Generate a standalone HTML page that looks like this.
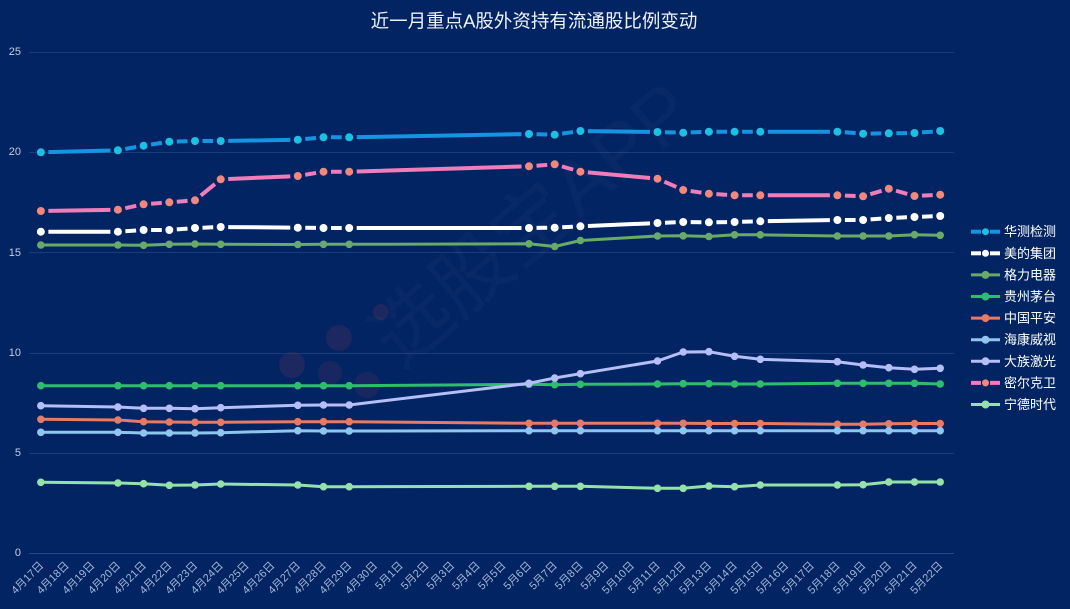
<!DOCTYPE html>
<html>
<head>
<meta charset="utf-8">
<style>
  html,body{margin:0;padding:0;background:#032462;}
  body{width:1070px;height:609px;overflow:hidden;}
  svg{display:block;}
  text{font-family:"Liberation Sans","Noto Sans CJK SC",sans-serif;}
</style>
</head>
<body>
<svg width="1070" height="609" viewBox="0 0 1070 609" xmlns="http://www.w3.org/2000/svg">
  <defs>
    <marker id="mHC" viewBox="-6 -6 12 12" refX="0" refY="0" markerWidth="12" markerHeight="12" markerUnits="userSpaceOnUse"><circle r="4" fill="#1cc0e2"/></marker>
    <marker id="mMD" viewBox="-6 -6 12 12" refX="0" refY="0" markerWidth="12" markerHeight="12" markerUnits="userSpaceOnUse"><circle r="4" fill="#ffffff"/></marker>
    <marker id="mML" viewBox="-6 -6 12 12" refX="0" refY="0" markerWidth="12" markerHeight="12" markerUnits="userSpaceOnUse"><circle r="4" fill="#f2877e"/></marker>
    <marker id="mGL" viewBox="-6 -6 12 12" refX="0" refY="0" markerWidth="12" markerHeight="12" markerUnits="userSpaceOnUse"><circle r="3.8" fill="#6aaa68"/></marker>
    <marker id="mMT" viewBox="-6 -6 12 12" refX="0" refY="0" markerWidth="12" markerHeight="12" markerUnits="userSpaceOnUse"><circle r="3.8" fill="#2dbe6c"/></marker>
    <marker id="mPA" viewBox="-6 -6 12 12" refX="0" refY="0" markerWidth="12" markerHeight="12" markerUnits="userSpaceOnUse"><circle r="3.8" fill="#e57a66"/></marker>
    <marker id="mHK" viewBox="-6 -6 12 12" refX="0" refY="0" markerWidth="12" markerHeight="12" markerUnits="userSpaceOnUse"><circle r="3.8" fill="#8ec6f0"/></marker>
    <marker id="mDZ" viewBox="-6 -6 12 12" refX="0" refY="0" markerWidth="12" markerHeight="12" markerUnits="userSpaceOnUse"><circle r="3.8" fill="#b6bef8"/></marker>
    <marker id="mND" viewBox="-6 -6 12 12" refX="0" refY="0" markerWidth="12" markerHeight="12" markerUnits="userSpaceOnUse"><circle r="3.8" fill="#92e2aa"/></marker>
  </defs>

  <rect x="0" y="0" width="1070" height="609" fill="#032462"/>

  <!-- title -->
  <text x="534" y="21" text-anchor="middle" dominant-baseline="central" font-size="18.5" fill="#eef2fa">近一月重点A股外资持有流通股比例变动</text>

  <!-- grid -->
  <g stroke="#1c3b79" stroke-width="1">
    <line x1="29" y1="52.5" x2="954" y2="52.5"/>
    <line x1="29" y1="152.5" x2="954" y2="152.5"/>
    <line x1="29" y1="252.5" x2="954" y2="252.5"/>
    <line x1="29" y1="353.5" x2="954" y2="353.5"/>
    <line x1="29" y1="453.5" x2="954" y2="453.5"/>
  </g>
  <line x1="29" y1="553.5" x2="954" y2="553.5" stroke="#27468a" stroke-width="1"/>

  <!-- y labels -->
  <g font-size="11" fill="#c3cde0" text-anchor="end" dominant-baseline="central">
    <text x="21" y="52">25</text>
    <text x="21" y="152">20</text>
    <text x="21" y="253">15</text>
    <text x="21" y="353">10</text>
    <text x="21" y="453">5</text>
    <text x="21" y="553">0</text>
  </g>

  <!-- watermark -->
  <g opacity="0.5">
    <circle cx="292" cy="365" r="13" fill="#5a2f5e" opacity="0.6"/>
    <circle cx="339" cy="338" r="13" fill="#5a2f5e" opacity="0.6"/>
    <circle cx="381" cy="312" r="8" fill="#5a2f5e" opacity="0.6"/>
    <circle cx="330" cy="373" r="12" fill="#5a2f5e" opacity="0.5"/>
    <circle cx="367" cy="385" r="13" fill="#5a2f5e" opacity="0.5"/>
  </g>
  <text x="0" y="0" transform="translate(400,370) rotate(-40)" font-size="78" fill="#ffffff" fill-opacity="0.025">选股宝APP</text>

  <!-- x labels -->
  <g font-size="11" fill="#a3b5d8" text-anchor="end" dominant-baseline="central">
    <text transform="translate(42,564) rotate(-45)">4月17日</text>
    <text transform="translate(67.5,564) rotate(-45)">4月18日</text>
    <text transform="translate(93.2,564) rotate(-45)">4月19日</text>
    <text transform="translate(118.9,564) rotate(-45)">4月20日</text>
    <text transform="translate(144.6,564) rotate(-45)">4月21日</text>
    <text transform="translate(170.3,564) rotate(-45)">4月22日</text>
    <text transform="translate(196,564) rotate(-45)">4月23日</text>
    <text transform="translate(221.7,564) rotate(-45)">4月24日</text>
    <text transform="translate(247.4,564) rotate(-45)">4月25日</text>
    <text transform="translate(273.1,564) rotate(-45)">4月26日</text>
    <text transform="translate(298.8,564) rotate(-45)">4月27日</text>
    <text transform="translate(324.5,564) rotate(-45)">4月28日</text>
    <text transform="translate(350.2,564) rotate(-45)">4月29日</text>
    <text transform="translate(375.9,564) rotate(-45)">4月30日</text>
    <text transform="translate(401.6,564) rotate(-45)">5月1日</text>
    <text transform="translate(427.3,564) rotate(-45)">5月2日</text>
    <text transform="translate(453,564) rotate(-45)">5月3日</text>
    <text transform="translate(478.6,564) rotate(-45)">5月4日</text>
    <text transform="translate(504.3,564) rotate(-45)">5月5日</text>
    <text transform="translate(530,564) rotate(-45)">5月6日</text>
    <text transform="translate(555.7,564) rotate(-45)">5月7日</text>
    <text transform="translate(581.4,564) rotate(-45)">5月8日</text>
    <text transform="translate(607.1,564) rotate(-45)">5月9日</text>
    <text transform="translate(632.8,564) rotate(-45)">5月10日</text>
    <text transform="translate(658.5,564) rotate(-45)">5月11日</text>
    <text transform="translate(684.2,564) rotate(-45)">5月12日</text>
    <text transform="translate(709.9,564) rotate(-45)">5月13日</text>
    <text transform="translate(735.6,564) rotate(-45)">5月14日</text>
    <text transform="translate(761.3,564) rotate(-45)">5月15日</text>
    <text transform="translate(787,564) rotate(-45)">5月16日</text>
    <text transform="translate(812.7,564) rotate(-45)">5月17日</text>
    <text transform="translate(838.4,564) rotate(-45)">5月18日</text>
    <text transform="translate(864.1,564) rotate(-45)">5月19日</text>
    <text transform="translate(889.8,564) rotate(-45)">5月20日</text>
    <text transform="translate(915.5,564) rotate(-45)">5月21日</text>
    <text transform="translate(941.2,564) rotate(-45)">5月22日</text>
  </g>

  <!-- series -->
  <!-- 华测检测 (gapped segments) -->
  <path fill="none" stroke="#1594e2" stroke-width="4" stroke-linecap="butt"
    d="M48.35,152.11L110.4,150.49 M125.28,148.98L136.22,147.02 M151,144.55L161.9,142.85 M176.8,141.5L187.5,141.2 M202.5,141L213.2,141 M228.2,140.87L290.3,139.83 M305.27,139L316.03,138 M331,137.3L341.7,137.3 M356.7,137.16L521.5,134.14 M536.5,134.2L547.2,134.5 M562.12,133.63L572.98,132.07 M587.9,131.1L650,131.9 M665,132.2L675.7,132.5 M690.7,132.4L701.4,132 M716.4,131.7L727.1,131.7 M742.1,131.7L752.8,131.7 M767.8,131.7L829.9,131.7 M844.83,132.28L855.67,133.12 M870.6,133.6L881.3,133.4 M896.3,133.2L907,133.1 M921.93,132.42L932.77,131.58"/>
  <polyline fill="none" stroke="none" marker-start="url(#mHC)" marker-mid="url(#mHC)" marker-end="url(#mHC)"
    points="40.85,152.3 117.9,150.3 143.6,145.7 169.3,141.7 195,141 220.7,141 297.8,139.7 323.5,137.3 349.2,137.3 529,134 554.7,134.7 580.4,131 657.5,132 683.2,132.7 708.9,131.7 734.6,131.7 760.3,131.7 837.4,131.7 863.1,133.7 888.8,133.3 914.5,133 940.2,131"/>

  <!-- 美的集团 -->
  <path fill="none" stroke="#ffffff" stroke-width="4" stroke-linecap="butt"
    d="M48.35,231.7L110.4,231.7 M125.38,231.2L136.12,230.5 M151.1,230L161.8,230 M176.78,229.42L187.52,228.58 M202.5,227.7L213.2,227.3 M228.2,227.07L290.3,227.63 M305.3,227.8L316,227.9 M331,228L341.7,228 M356.7,228L521.5,228 M536.5,227.9L547.2,227.8 M562.2,227.3L572.9,226.7 M587.9,225.98L650,223.32 M665,222.7L675.7,222.3 M690.7,222.1L701.4,222.2 M716.4,222.2L727.1,222.1 M742.1,221.8L752.8,221.5 M767.8,221.17L829.9,220.13 M844.9,220L855.6,220 M870.58,219.42L881.32,218.58 M896.3,217.7L907,217.3 M922,216.7L932.7,216.3"/>
  <polyline fill="none" stroke="none" marker-start="url(#mMD)" marker-mid="url(#mMD)" marker-end="url(#mMD)"
    points="40.85,231.7 117.9,231.7 143.6,230 169.3,230 195,228 220.7,227 297.8,227.7 323.5,228 349.2,228 529,228 554.7,227.7 580.4,226.3 657.5,223 683.2,222 708.9,222.3 734.6,222 760.3,221.3 837.4,220 863.1,220 888.8,218 914.5,217 940.2,216"/>

  <!-- 格力电器 -->
  <polyline fill="none" stroke="#6aaa68" stroke-width="3" stroke-linejoin="round" marker-start="url(#mGL)" marker-mid="url(#mGL)" marker-end="url(#mGL)"
    points="40.85,245 117.9,245 143.6,245.3 169.3,244.3 195,244 220.7,244.3 297.8,244.5 323.5,244.3 349.2,244.3 529,243.8 554.7,246.5 580.4,240.5 657.5,236 683.2,235.8 708.9,236.5 734.6,234.8 760.3,234.8 837.4,236 863.1,236 888.8,236 914.5,234.7 940.2,235.3"/>

  <!-- 贵州茅台 -->
  <polyline fill="none" stroke="#2dbe6c" stroke-width="3" stroke-linejoin="round" marker-start="url(#mMT)" marker-mid="url(#mMT)" marker-end="url(#mMT)"
    points="40.85,385.7 117.9,385.7 143.6,385.7 169.3,385.7 195,385.7 220.7,385.7 297.8,385.7 323.5,385.7 349.2,385.7 529,384.3 554.7,384.7 580.4,384.3 657.5,384 683.2,383.7 708.9,383.7 734.6,384 760.3,384 837.4,383.3 863.1,383.3 888.8,383.3 914.5,383.3 940.2,384"/>

  <!-- 中国平安 -->
  <polyline fill="none" stroke="#e57a66" stroke-width="3" stroke-linejoin="round" marker-start="url(#mPA)" marker-mid="url(#mPA)" marker-end="url(#mPA)"
    points="40.85,419.3 117.9,420 143.6,421.7 169.3,422 195,422.3 220.7,422.3 297.8,421.7 323.5,421.7 349.2,421.7 529,423.3 554.7,423.3 580.4,423.3 657.5,423.3 683.2,423.3 708.9,423.5 734.6,423.5 760.3,423.5 837.4,424.3 863.1,424.3 888.8,423.8 914.5,423.5 940.2,423.5"/>

  <!-- 海康威视 -->
  <polyline fill="none" stroke="#8ec6f0" stroke-width="3" stroke-linejoin="round" marker-start="url(#mHK)" marker-mid="url(#mHK)" marker-end="url(#mHK)"
    points="40.85,432.3 117.9,432.3 143.6,433 169.3,433 195,433 220.7,432.7 297.8,430.7 323.5,431 349.2,431 529,430.7 554.7,430.7 580.4,430.7 657.5,430.7 683.2,430.7 708.9,430.7 734.6,430.7 760.3,430.7 837.4,430.7 863.1,430.7 888.8,430.7 914.5,430.7 940.2,430.7"/>

  <!-- 大族激光 -->
  <polyline fill="none" stroke="#b6bef8" stroke-width="3" stroke-linejoin="round" marker-start="url(#mDZ)" marker-mid="url(#mDZ)" marker-end="url(#mDZ)"
    points="40.85,405.7 117.9,407 143.6,408.3 169.3,408.3 195,408.7 220.7,407.7 297.8,405.3 323.5,405 349.2,405 529,383.3 554.7,378 580.4,373.7 657.5,361 683.2,352 708.9,351.7 734.6,356.3 760.3,359.3 837.4,361.7 863.1,365 888.8,367.7 914.5,369.3 940.2,368.3"/>

  <!-- 密尔克卫 -->
  <path fill="none" stroke="#f07cba" stroke-width="4" stroke-linecap="butt"
    d="M48.35,210.87L110.4,209.83 M125.24,208.16L136.26,205.84 M151.08,203.72L161.82,202.88 M176.78,201.72L187.52,200.88 M200.81,195.55L214.89,184.05 M228.19,178.98L290.31,176.32 M305.2,174.76L316.1,172.94 M331,171.7L341.7,171.7 M356.7,171.47L521.5,166.53 M536.48,165.72L547.22,164.88 M561.91,166.38L573.19,169.62 M587.87,172.38L650.03,178.02 M664.37,181.72L676.33,186.98 M690.62,191.07L701.48,192.63 M716.36,194.16L727.14,194.84 M742.1,195.3L752.8,195.3 M767.8,195.3L829.9,195.3 M844.9,195.6L855.6,196 M870.29,194.17L881.61,190.83 M896.01,190.75L907.29,193.95 M922,195.62L932.7,195.08"/>
  <polyline fill="none" stroke="none" marker-start="url(#mML)" marker-mid="url(#mML)" marker-end="url(#mML)"
    points="40.85,211 117.9,209.7 143.6,204.3 169.3,202.3 195,200.3 220.7,179.3 297.8,176 323.5,171.7 349.2,171.7 529,166.3 554.7,164.3 580.4,171.7 657.5,178.7 683.2,190 708.9,193.7 734.6,195.3 760.3,195.3 837.4,195.3 863.1,196.3 888.8,188.7 914.5,196 940.2,194.7"/>

  <!-- 宁德时代 -->
  <polyline fill="none" stroke="#92e2aa" stroke-width="3" stroke-linejoin="round" marker-start="url(#mND)" marker-mid="url(#mND)" marker-end="url(#mND)"
    points="40.85,482.3 117.9,483 143.6,483.7 169.3,485.3 195,485 220.7,484 297.8,485 323.5,486.7 349.2,486.7 529,486.3 554.7,486.3 580.4,486.3 657.5,488.3 683.2,488.3 708.9,486 734.6,486.7 760.3,485 837.4,485 863.1,484.7 888.8,482 914.5,482 940.2,482"/>

  <!-- legend -->
  <g font-size="13" fill="#ffffff" dominant-baseline="central">
    <line x1="971" y1="231.7" x2="981" y2="231.7" stroke="#1594e2" stroke-width="4"/>
    <line x1="990" y1="231.7" x2="1000" y2="231.7" stroke="#1594e2" stroke-width="4"/>
    <circle cx="985.5" cy="231.7" r="3.5" fill="#1cc0e2"/>
    <text x="1004" y="231.7">华测检测</text>

    <line x1="971" y1="253.3" x2="981" y2="253.3" stroke="#ffffff" stroke-width="4"/>
    <line x1="990" y1="253.3" x2="1000" y2="253.3" stroke="#ffffff" stroke-width="4"/>
    <circle cx="985.5" cy="253.3" r="3.5" fill="#ffffff"/>
    <text x="1004" y="253.3">美的集团</text>

    <line x1="971" y1="274.9" x2="1000" y2="274.9" stroke="#6aaa68" stroke-width="3"/>
    <circle cx="985.5" cy="274.9" r="4" fill="#6aaa68"/>
    <text x="1004" y="274.9">格力电器</text>

    <line x1="971" y1="296.5" x2="1000" y2="296.5" stroke="#2dbe6c" stroke-width="3"/>
    <circle cx="985.5" cy="296.5" r="4" fill="#2dbe6c"/>
    <text x="1004" y="296.5">贵州茅台</text>

    <line x1="971" y1="318.1" x2="1000" y2="318.1" stroke="#e57a66" stroke-width="3"/>
    <circle cx="985.5" cy="318.1" r="4" fill="#e57a66"/>
    <text x="1004" y="318.1">中国平安</text>

    <line x1="971" y1="339.7" x2="1000" y2="339.7" stroke="#8ec6f0" stroke-width="3"/>
    <circle cx="985.5" cy="339.7" r="4" fill="#8ec6f0"/>
    <text x="1004" y="339.7">海康威视</text>

    <line x1="971" y1="361.3" x2="1000" y2="361.3" stroke="#b6bef8" stroke-width="3"/>
    <circle cx="985.5" cy="361.3" r="4" fill="#b6bef8"/>
    <text x="1004" y="361.3">大族激光</text>

    <line x1="971" y1="382.9" x2="981" y2="382.9" stroke="#f07cba" stroke-width="4"/>
    <line x1="990" y1="382.9" x2="1000" y2="382.9" stroke="#f07cba" stroke-width="4"/>
    <circle cx="985.5" cy="382.9" r="3.5" fill="#f2877e"/>
    <text x="1004" y="382.9">密尔克卫</text>

    <line x1="971" y1="404.5" x2="1000" y2="404.5" stroke="#92e2aa" stroke-width="3"/>
    <circle cx="985.5" cy="404.5" r="4" fill="#92e2aa"/>
    <text x="1004" y="404.5">宁德时代</text>
  </g>
</svg>
</body>
</html>
